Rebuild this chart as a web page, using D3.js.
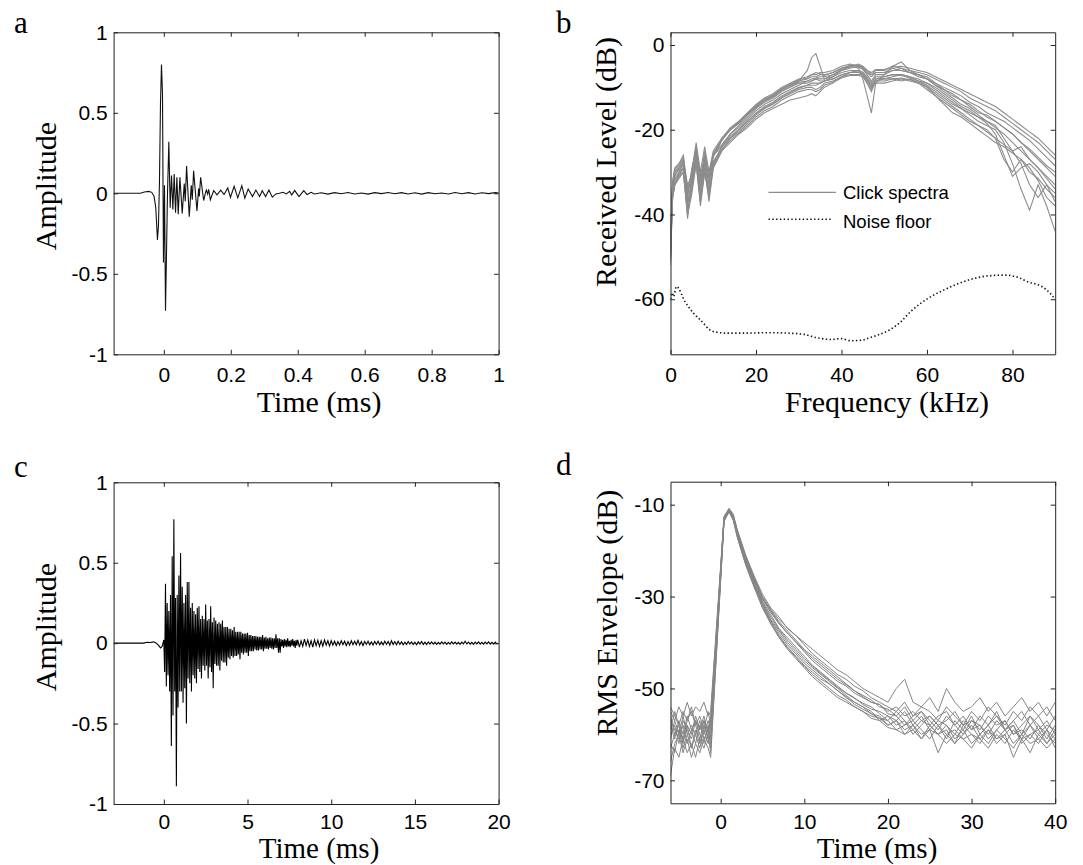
<!DOCTYPE html>
<html>
<head>
<meta charset="utf-8">
<script src="https://cdn.jsdelivr.net/npm/d3@7"></script>
<style>
  body { margin: 0; background: #fff; }
  svg { display: block; }
</style>
</head>
<body>
<div id="chart"></div>
<script>
// ---- panel a: single click waveform ----
var aTime = [-0.150, -0.070, -0.058, -0.045, -0.036, -0.029, -0.024, -0.019, -0.016, -0.013,
  -0.010, -0.007, -0.004, -0.001, 0.002, 0.005, 0.008, 0.011, 0.015, 0.019,
  0.023, 0.027, 0.031, 0.035, 0.039, 0.043, 0.048, 0.055, 0.061, 0.064,
  0.068, 0.076, 0.082, 0.085, 0.089, 0.099, 0.104, 0.106, 0.110, 0.119,
  0.124, 0.127, 0.131, 0.134, 0.139, 0.149, 0.159, 0.170, 0.180, 0.191,
  0.199, 0.210, 0.221, 0.233, 0.242, 0.252, 0.265, 0.275, 0.286, 0.294,
  0.304, 0.314, 0.324, 0.335, 0.345, 0.356, 0.366, 0.376, 0.382, 0.391,
  0.404, 0.418, 0.428, 0.440, 0.450]
var aAmp = [0, 0, 0.008, 0.012, 0.006, -0.02, -0.09, -0.29, -0.20, 0.07,
  0.55, 0.80, 0.62, -0.43, 0.05, -0.73, -0.38, 0.0, 0.32, -0.09,
  0.11, -0.10, 0.12, -0.12, 0.10, -0.13, 0.10, -0.125, 0.06, -0.05,
  0.17, -0.145, 0.05, -0.04, 0.14, -0.11, 0.03, -0.02, 0.10, -0.045,
  0.0, 0.02, -0.005, 0.025, -0.04, 0.017, -0.01, 0.02, -0.008, 0.033,
  -0.025, 0.043, -0.028, 0.047, -0.03, 0.027, -0.02, 0.02, -0.02, 0.016,
  -0.02, 0.02, -0.024, -0.004, 0.0, 0.006, -0.004, 0.012, -0.01, 0.017,
  -0.02, 0.017, -0.008, 0.006, -0.004]
// tail sampled every 0.02 ms from 0.47 ms
var aTailStart = 0.47
var aTailStep = 0.02
var aTail = [0.003, -0.005, 0.004, -0.003, 0.005, -0.004, 0.002, -0.005, 0.004, -0.002,
  0.005, -0.003, 0.004, -0.004, 0.003, -0.005, 0.004, -0.003, 0.002, -0.004,
  0.005, -0.003, 0.004, -0.004, 0.003, -0.002, 0.004, 0]

// ---- panel b: click spectra + noise floor ----
var bFreq = [0, 0.5, 1, 2, 3, 4, 5, 6, 7, 8, 9, 10, 11, 12, 14, 16, 18, 20, 22, 24, 26, 28, 30, 32,
  33, 34, 35, 36, 38, 40, 42, 44, 45, 46, 47, 48, 50, 52, 54, 56, 58, 60, 62, 64, 66, 68,
  70, 72, 74, 76, 78, 80, 82, 84, 86, 88, 90]
var bSpec1 = [-50, -33, -30, -29, -27, -38, -31, -25, -35, -27, -33, -26, -25, -22, -20, -18.5, -16.5, -14.5, -13, -12,
  -10.5, -9.5, -8.5, -6, -3, -2, -5, -8, -7, -6, -5, -5.5, -8, -12, -16, -9, -7, -5, -4, -6,
  -7, -8, -9.5, -10.5, -12, -13, -14.5, -16, -16.5, -18, -19.5, -21, -23, -25, -27, -29, -31]
var bSpec2 = [-46, -36, -33, -31, -30, -40, -34, -28, -38, -30, -36, -29, -27, -25, -23, -21, -19.5, -17.5, -16, -15,
  -14, -13, -12.5, -12, -11.5, -12, -11, -10, -9, -7.5, -6.5, -6, -6.5, -8, -10, -8, -8, -8, -8.5, -8,
  -9, -10, -12, -13.5, -15, -16.5, -18, -19, -20, -22, -27, -30, -27, -29, -32, -36, -38]
var bSpec3 = [-52, -32, -29, -28, -26, -34, -30, -24, -31, -26, -30, -25, -23.5, -22, -19.5, -18, -16, -14, -12.5, -11.5,
  -10, -9, -8, -7.5, -7, -7, -6.5, -6.5, -6, -5, -4.5, -5, -5.5, -6.5, -7, -6, -6, -5, -5.5, -6,
  -6.5, -7, -8, -9, -10, -11, -12.5, -13.5, -14.5, -15.5, -17, -18.5, -20, -21.5, -23, -25, -27]
var bSpec4 = [-47, -35, -32, -30.5, -29, -37, -33, -27, -33, -29, -31, -28, -26, -24, -21, -19.5, -17.5, -15.5, -14, -13,
  -11.5, -10.5, -9.5, -8.5, -8.5, -8, -8, -8, -7.5, -6.5, -6, -6, -6.5, -7.5, -9, -7.5, -7.5, -7, -7, -7.5,
  -8, -9, -10.5, -12, -13.5, -15, -16.5, -18, -19, -20, -23, -28, -34, -39, -33, -38, -44]
var bSpec5 = [-45, -34, -31, -29, -28.5, -35, -30, -23, -30, -24, -30, -26, -25, -23.5, -21, -19, -17, -15, -13.5, -12.5,
  -11, -10, -9, -9, -8.5, -8, -8.5, -8.5, -7.5, -6, -5.5, -5, -5.5, -6.5, -7.5, -6.5, -6.5, -6, -6, -6.5,
  -7, -8, -9, -10.5, -11.5, -13, -14, -15.5, -17, -18, -19.5, -21, -23, -24.5, -26.5, -28.5, -30]
var bSpec6 = [-49, -35, -32, -31, -29, -39, -33, -26.5, -36, -28.5, -34, -28, -26, -24, -21.5, -20, -18, -16, -14.5, -13.5,
  -12, -11, -10, -9.5, -9, -9, -9, -8.5, -8, -7, -6.5, -6.5, -7, -9, -11, -8.5, -8, -7.5, -7, -7.5,
  -8.5, -9.5, -11, -12.5, -14, -15, -16, -17, -18.5, -21, -26, -31, -29, -28, -30, -33, -35]
var bSpec7 = [-44, -33, -30.5, -29.5, -27.5, -33, -31, -25.5, -32, -27, -31, -26.5, -24.5, -22.5, -20, -18, -16, -14.5, -13, -12,
  -10.5, -9.5, -8.5, -8, -7.5, -7.5, -7, -7, -6.5, -5.5, -5, -4.5, -5, -6, -7, -6.5, -6.5, -5.5, -6, -6.5,
  -7, -7.5, -9, -10, -11, -12, -13.5, -14.5, -16, -17, -18, -19.5, -21, -22.5, -24.5, -26.5, -28.5]
var bSpec8 = [-51, -36, -33, -30, -29, -41, -32, -27, -37, -29, -37, -29, -27, -25, -22, -20.5, -18.5, -16.5, -15, -14,
  -12.5, -11.5, -10.5, -10, -10, -10.5, -10, -9, -8.5, -7.5, -7, -7, -7, -8.5, -10, -9, -9, -8.5, -8, -8.5,
  -9, -10.5, -12, -14, -16, -17, -18.5, -20, -21.5, -23, -24, -25.5, -27, -30, -31.5, -34, -36]
var bSpec9 = [-43, -33, -30, -28.5, -27, -36, -29, -24.5, -33, -25, -32, -25.5, -24, -22.5, -20, -18.5, -16.5, -14.8, -13.2, -12.2,
  -10.8, -9.8, -8.8, -8.5, -8, -7.8, -7.5, -7.5, -7, -5.8, -5.2, -5.2, -5.8, -7, -8.5, -7, -7, -6, -5.5, -6.5,
  -7.5, -8, -9.5, -11, -12.5, -14, -15, -16.5, -18, -19, -22, -25, -24, -27, -29, -31, -33]
var bSpec10 = [-48, -35, -31.5, -30, -28, -37, -32.5, -26, -34, -28, -35, -27.5, -26, -24, -22, -20, -18, -16.2, -14.8, -13.8,
  -12.3, -11.2, -10.2, -9.5, -9.5, -9.5, -9, -8.5, -8, -7, -6.5, -6.3, -6.8, -8, -9.5, -8, -7.5, -7, -7.2, -7.8,
  -8.5, -9, -10, -11.5, -13, -14.5, -15.5, -17, -18, -19.5, -21, -23, -25, -27, -29, -31.5, -34]
var bSpec11 = [-46, -32.5, -29.5, -28, -26.5, -35, -30.5, -25, -32, -26.5, -31.5, -26, -24, -22, -19.8, -18.2, -16.2, -14.2, -12.8, -11.8,
  -10.2, -9.2, -8.2, -7.8, -7, -6.5, -6.8, -7.2, -6.5, -5.5, -4.8, -4.8, -5.2, -6, -6.5, -5.8, -5.8, -5.2, -5, -5.5,
  -6, -6.5, -7.5, -8.5, -9.5, -10.5, -11.5, -12.5, -13.5, -14.5, -16, -17.5, -19, -20.5, -22, -24, -26]
var bSpec12 = [-50, -36, -33, -31.5, -30, -40, -35, -28, -37, -30, -35, -28.5, -26.5, -24.5, -22.5, -20.8, -19, -17, -15.5, -14.5,
  -13, -12, -11, -10.5, -10.5, -11, -10.5, -9.5, -8.8, -7.8, -7.2, -7.2, -7.5, -9, -10.5, -8.5, -8.5, -8, -7.8, -8.2,
  -8.8, -9.8, -11.5, -13, -14.5, -16, -17.5, -19, -20.5, -22, -23.5, -25, -28, -33, -36, -33, -37]
var bSpectra = [bSpec1, bSpec2, bSpec3, bSpec4, bSpec5, bSpec6, bSpec7, bSpec8, bSpec9, bSpec10, bSpec11, bSpec12]

var noiseFreq = [0, 0.4, 0.7, 1.4, 3.4, 5.4, 7.4, 9, 10.9, 13.3, 18, 22.6, 27.3, 31.2, 34.3, 37.5, 39.8, 42.2,
  44.5, 46.9, 49.2, 51.5, 53.9, 56.2, 58.5, 60.9, 64, 67.1, 70.3, 74.2, 78.1, 81.2, 83.6, 86, 88, 90]
var noiseLevel = [-60, -58.5, -59.4, -57, -60.6, -63.3, -65.3, -67.1, -67.8, -68, -68, -67.9, -68, -68.3, -69.1, -69.5, -69.3, -69.8,
  -69.7, -69, -68.2, -67.1, -65.3, -62.9, -61, -59.4, -57.8, -56.4, -55.3, -54.5, -54.3, -54.8, -55.9, -56.6, -57.8, -60]

// ---- panel c: long click waveform ----
var cPreTime = [-3, -1.2, -1.0, -0.8, -0.6, -0.45, -0.3, -0.2, -0.1, -0.05]
var cPreAmp = [0, 0, 0.006, 0.004, 0.008, 0, -0.015, -0.03, -0.02, 0]
// burst sampled every 0.05 ms from 0 ms
var cBurstStep = 0.05
var cBurst = [
  0.02, -0.18, 0.37, -0.27, 0.25, -0.2, 0.2, -0.3, 0.3, -0.64, 0.54, -0.45, 0.77, -0.3, 0.28, -0.89, 0.3, -0.4, 0.42, -0.3,
  0.56, -0.3, 0.35, -0.37, 0.25, -0.28, 0.3, -0.5, 0.38, -0.22, 0.38, -0.25, 0.22, -0.3, 0.25, -0.2, 0.2, -0.22, 0.18, -0.25,
  0.22, -0.16, 0.23, -0.18, 0.15, -0.22, 0.17, -0.14, 0.15, -0.17, 0.24, -0.14, 0.14, -0.22, 0.15, -0.15, 0.23, -0.18, 0.13, -0.28,
  0.16, -0.13, 0.14, -0.14, 0.12, -0.14, 0.13, -0.17, 0.12, -0.11, 0.14, -0.12, 0.1, -0.12, 0.1, -0.14, 0.1, -0.09, 0.09, -0.1,
  0.09, -0.08, 0.08, -0.09, 0.1, -0.08, 0.07, -0.08, 0.07, -0.07, 0.07, -0.1, 0.07, -0.06, 0.06, -0.07, 0.06, -0.06, 0.06, -0.06,
  0.065, -0.08, 0.05, -0.05, 0.05, -0.05, 0.045, -0.05, 0.045, -0.04, 0.045, -0.045, 0.04, -0.045, 0.04, -0.04, 0.04, -0.04, 0.05, -0.05,
  0.035, -0.035, 0.04, -0.035, 0.03, -0.04, 0.035, -0.03, 0.035, -0.035, 0.03, -0.04, 0.03, -0.03, 0.055, -0.03, 0.03, -0.06, 0.03, -0.06,
  0.025, -0.02, 0.02, -0.03, 0.025, -0.02, 0.02, -0.025, 0.03, -0.02, 0.015, -0.025, 0.02, -0.015, 0.025, -0.02, 0.015, -0.03, 0.02, -0.015]
// tail sampled every 0.1 ms from 8 ms
var cTailStart = 8
var cTailStep = 0.1
var cTail = [
  0.02, -0.025, 0.015, -0.02, 0.025, -0.015, 0.02, -0.02, 0.015, -0.025, 0.02, -0.015, 0.018, -0.02, 0.015, -0.018, 0.02, -0.012, 0.015, -0.018,
  0.015, -0.012, 0.012, -0.015, 0.01, -0.012, 0.015, -0.01, 0.012, -0.015, 0.01, -0.012, 0.015, -0.01, 0.012, -0.01, 0.018, -0.012, 0.01, -0.015,
  0.01, -0.008, 0.012, -0.01, 0.008, -0.012, 0.01, -0.008, 0.012, -0.01, 0.008, -0.01, 0.012, -0.008, 0.01, -0.012, 0.015, -0.008, 0.01, -0.01,
  0.012, -0.008, 0.008, -0.01, 0.006, -0.008, 0.01, -0.006, 0.008, -0.008, 0.006, -0.01, 0.008, -0.006, 0.01, -0.008, 0.006, -0.008, 0.008, -0.006,
  0.008, -0.006, 0.006, -0.008, 0.005, -0.006, 0.008, -0.005, 0.006, -0.008, 0.005, -0.006, 0.008, -0.005, 0.006, -0.006, 0.005, -0.008, 0.006, -0.005,
  0.012, -0.005, 0.006, -0.006, 0.005, -0.008, 0.006, -0.005, 0.008, -0.006, 0.005, -0.006, 0.006, -0.005, 0.008, -0.006, 0.005, -0.006, 0.006, -0.005,
  0]

// ---- panel d: RMS envelopes ----
var dTime = [-6, -5.5, -5, -4.5, -4, -3.5, -3, -2.5, -2, -1.5, -1.2, 0.4, 1, 1.5, 2,
  3, 4, 5, 6, 7, 8, 9, 10, 11, 12, 13, 14, 15, 16, 17, 18, 19, 20, 21, 22,
  23, 24, 25, 26, 27, 28, 29, 30, 31, 32, 33, 34, 35, 36, 37, 38, 39, 40]
var dEnv1 = [-58, -61, -57, -60, -56, -59, -62, -58, -60, -57, -59, -13, -11, -12.5, -16,
  -21.5, -26, -30.5, -33.5, -36, -38, -40, -42, -44, -45.5, -47, -48.5, -49.5, -51, -52, -53, -53.5, -55, -54, -56,
  -55, -57, -56, -58, -57, -55, -58, -57, -59, -56, -58, -57, -60, -58, -56, -59, -57, -60]
var dEnv2 = [-69, -63, -65, -61, -64, -62, -65, -61, -63, -60, -64, -13.5, -11.3, -13, -16.5,
  -22.5, -27, -31.5, -35, -37.5, -40, -42, -44, -45.5, -47, -48.5, -50, -51.5, -53, -54, -55.5, -56, -58, -57, -59,
  -58, -60, -59, -64, -60, -59, -61, -60, -62, -59, -61, -60, -65, -61, -60, -62, -59, -61]
var dEnv3 = [-55, -57, -54, -56, -53, -56, -54, -55, -53, -56, -55, -12.5, -10.8, -12, -15.5,
  -21, -25.5, -29.5, -32.5, -34.5, -37, -38.5, -40, -41.5, -43, -44.5, -46, -47, -48.5, -50, -51, -52, -53, -50, -48,
  -53, -54, -52, -55, -50, -53, -55, -54, -52, -55, -53, -56, -54, -52, -55, -53, -56, -53]
var dEnv4 = [-60, -58, -62, -57, -59, -61, -57, -60, -62, -58, -61, -13.2, -11.2, -12.8, -16.2,
  -22, -26.5, -31, -34, -37, -39, -41, -43, -45, -46.5, -48, -49.5, -51, -52, -53.5, -54.5, -55, -56, -57, -55,
  -58, -56, -59, -57, -58, -60, -57, -59, -58, -61, -59, -57, -60, -59, -61, -58, -60, -62]
var dEnv5 = [-63, -60, -59, -63, -60, -58, -60, -63, -59, -62, -60, -13, -11, -12.6, -16,
  -21.8, -26.2, -30.5, -33, -35.5, -37.5, -39.5, -41.5, -43, -44.5, -46, -47.5, -49, -50.5, -51.5, -52.5, -54, -54.5, -56, -58,
  -56, -55, -57, -59, -56, -58, -60, -57, -58, -60, -57, -59, -58, -61, -58, -60, -58, -59]
var dEnv6 = [-57, -59, -61, -58, -62, -59, -57, -59, -56, -60, -57, -13.4, -11.4, -13.2, -17,
  -23, -27.5, -32, -35.5, -38.5, -41, -43, -45, -46.5, -48, -49, -50.5, -52, -53, -54, -55, -57, -56, -58, -57,
  -59, -57, -58, -60, -58, -61, -59, -62, -60, -58, -61, -59, -62, -60, -58, -61, -59, -63]
var dEnv7 = [-54, -56, -58, -55, -57, -55, -58, -56, -59, -55, -58, -12.8, -11, -12.3, -15.8,
  -21.2, -25.8, -30, -32.8, -35, -36.8, -38.5, -40.5, -42.5, -44, -45.5, -47, -48, -49.5, -50.5, -52, -53, -54, -55, -53,
  -56, -54, -55, -57, -54, -56, -58, -55, -57, -54, -56, -58, -55, -57, -54, -56, -54, -57]
var dEnv8 = [-66, -62, -60, -64, -61, -65, -62, -64, -61, -63, -65, -13.6, -11.6, -13.4, -17.2,
  -23.2, -28, -32.5, -36, -39, -41.5, -43.5, -45.5, -47.5, -49, -50.5, -52, -53, -54, -55, -56.5, -57, -58.5, -59, -60,
  -58, -61, -59, -60, -62, -60, -61, -63, -60, -62, -59, -61, -63, -60, -62, -61, -63, -61]
var dEnv9 = [-59, -55, -58, -61, -57, -54, -58, -61, -57, -59, -56, -13.1, -11.1, -12.7, -16.1,
  -22.2, -26.8, -31.2, -34.5, -37.2, -39.5, -41.5, -43.5, -45.2, -46.8, -48.2, -49.8, -51, -52.2, -53.2, -54, -55.5, -57, -55, -57,
  -60, -58, -56, -58, -61, -57, -59, -56, -60, -58, -55, -59, -57, -60, -56, -58, -61, -58]
var dEnv10 = [-62, -64, -59, -61, -58, -63, -60, -57, -61, -59, -62, -13.3, -11.3, -13, -16.6,
  -22.6, -27.2, -31.8, -35.2, -38, -40.5, -42.5, -44.5, -46, -47.5, -49, -50.5, -51.8, -53.5, -54.5, -55.5, -56.5, -57, -59, -58,
  -57, -59, -61, -58, -60, -62, -58, -60, -61, -59, -62, -60, -58, -62, -60, -59, -62, -60]
var dEnv11 = [-56, -60, -58, -62, -58, -60, -56, -59, -57, -61, -58, -12.9, -10.9, -12.4, -15.9,
  -21.5, -26, -30.2, -33.2, -35.8, -38, -39.8, -41.8, -43.5, -45, -46.5, -48, -49.2, -50.5, -51.8, -53, -53.5, -55.5, -56, -54,
  -57, -55, -58, -56, -55, -58, -56, -59, -56, -58, -56, -59, -57, -55, -58, -56, -59, -56]
var dEnv12 = [-61, -57, -60, -56, -60, -63, -59, -62, -58, -61, -63, -13.5, -11.5, -13.3, -17,
  -23, -27.8, -32.2, -35.8, -38.8, -41.2, -43.2, -45.2, -47, -48.5, -50, -51.5, -52.5, -54, -55, -56, -56.5, -58, -57, -60,
  -59, -61, -58, -60, -59, -62, -60, -58, -61, -63, -60, -62, -59, -61, -64, -60, -62, -59]
var dEnvelopes = [dEnv1, dEnv2, dEnv3, dEnv4, dEnv5, dEnv6, dEnv7, dEnv8, dEnv9, dEnv10, dEnv11, dEnv12]

// ---- tick values ----
var ampTicks = [-1, -0.5, 0, 0.5, 1]
var aTimeTicks = [0, 0.2, 0.4, 0.6, 0.8, 1]
var bFreqTicks = [0, 20, 40, 60, 80]
var bLevelTicks = [-60, -40, -20, 0]
var cTimeTicks = [0, 5, 10, 15, 20]
var dTimeTicks = [0, 10, 20, 30, 40]
var dLevelTicks = [-70, -50, -30, -10]

var W = 1083
var H = 865
var TICK = 4.5
var GREY = '#8c8c8c'
var SANS = '"Liberation Sans", Arial, sans-serif'
var SERIF = '"Liberation Serif", "Times New Roman", serif'

var svg = d3.select('#chart').append('svg')
  .attr('width', W)
  .attr('height', H)
  .style('background', '#fff')

function makePanel (p) {
  var x = d3.scaleLinear().domain(p.xDomain).range([p.left, p.right])
  var y = d3.scaleLinear().domain(p.yDomain).range([p.bottom, p.top])
  var g = svg.append('g').attr('id', 'panel-' + p.id)

  g.append('defs').append('clipPath')
    .attr('id', 'clip-' + p.id)
    .append('rect')
    .attr('x', p.left)
    .attr('y', p.top)
    .attr('width', p.right - p.left)
    .attr('height', p.bottom - p.top)

  var plot = g.append('g').attr('clip-path', 'url(#clip-' + p.id + ')')

  var fmt = function (d) { return String(d) }

  g.append('g')
    .attr('transform', 'translate(0,' + p.bottom + ')')
    .call(d3.axisBottom(x).tickValues(p.xTicks).tickFormat(fmt)
      .tickSize(-TICK).tickSizeOuter(0).tickPadding(p.xPad))
  g.append('g')
    .attr('transform', 'translate(' + p.left + ',0)')
    .call(d3.axisLeft(y).tickValues(p.yTicks).tickFormat(fmt)
      .tickSize(-TICK).tickSizeOuter(0).tickPadding(6))
  g.append('g')
    .attr('transform', 'translate(0,' + p.top + ')')
    .call(d3.axisTop(x).tickValues(p.xTicks).tickFormat('')
      .tickSize(-TICK).tickSizeOuter(0))
  g.append('g')
    .attr('transform', 'translate(' + p.right + ',0)')
    .call(d3.axisRight(y).tickValues(p.yTicks).tickFormat('')
      .tickSize(-TICK).tickSizeOuter(0))

  g.selectAll('.domain, .tick line').attr('stroke', '#222').attr('stroke-width', 1)
  g.selectAll('.tick text')
    .attr('font-family', SANS)
    .attr('font-size', 21)
    .attr('fill', '#000')

  g.append('text')
    .attr('x', p.xLabelX)
    .attr('y', p.xLabelY)
    .attr('text-anchor', 'middle')
    .attr('font-family', SERIF)
    .attr('font-size', p.labelSize)
    .text(p.xLabel)

  g.append('text')
    .attr('transform', 'translate(' + p.yLabelX + ',' + p.yLabelY + ') rotate(-90)')
    .attr('text-anchor', 'middle')
    .attr('font-family', SERIF)
    .attr('font-size', 30)
    .text(p.yLabel)

  g.append('text')
    .attr('x', p.letterX)
    .attr('y', p.letterY)
    .attr('font-family', SERIF)
    .attr('font-size', 31)
    .text(p.id)

  return { x: x, y: y, plot: plot, g: g }
}

// panel a
var pa = makePanel({
  id: 'a', left: 113.6, right: 498.6, top: 32.3, bottom: 354.3,
  xDomain: [-0.15, 1], yDomain: [-1, 1], xTicks: aTimeTicks, yTicks: ampTicks, xPad: 12.5,
  xLabel: 'Time (ms)', xLabelX: 319, xLabelY: 412, labelSize: 30,
  yLabel: 'Amplitude', yLabelX: 56, yLabelY: 186,
  letterX: 14, letterY: 33
})
var aPoints = aTime.map(function (t, i) { return [t, aAmp[i]] })
aTail.forEach(function (v, i) { aPoints.push([aTailStart + i * aTailStep, v]) })
aPoints.push([1, 0])
pa.plot.append('path')
  .datum(aPoints)
  .attr('fill', 'none')
  .attr('stroke', '#111')
  .attr('stroke-width', 1.1)
  .attr('d', d3.line().x(function (d) { return pa.x(d[0]) }).y(function (d) { return pa.y(d[1]) }))

// panel b
var pb = makePanel({
  id: 'b', left: 670.5, right: 1055.2, top: 32.3, bottom: 354.3,
  xDomain: [0, 90], yDomain: [-73, 3], xTicks: bFreqTicks, yTicks: bLevelTicks, xPad: 12.5,
  xLabel: 'Frequency (kHz)', xLabelX: 887, xLabelY: 412, labelSize: 30,
  yLabel: 'Received Level (dB)', yLabelX: 616, yLabelY: 162,
  letterX: 556, letterY: 33
})
var specLine = d3.line()
  .x(function (d, i) { return pb.x(bFreq[i]) })
  .y(function (d) { return pb.y(d) })
pb.plot.selectAll('path.spec')
  .data(bSpectra)
  .enter().append('path')
  .attr('class', 'spec')
  .attr('fill', 'none')
  .attr('stroke', GREY)
  .attr('stroke-width', 1.1)
  .attr('d', specLine)
pb.plot.append('path')
  .datum(noiseLevel)
  .attr('fill', 'none')
  .attr('stroke', '#111')
  .attr('stroke-width', 1.6)
  .attr('stroke-dasharray', '1.4,2.4')
  .attr('d', d3.line()
    .curve(d3.curveMonotoneX)
    .x(function (d, i) { return pb.x(noiseFreq[i]) })
    .y(function (d) { return pb.y(d) }))

// legend
var legend = pb.g.append('g')
legend.append('line')
  .attr('x1', 768.5).attr('x2', 836).attr('y1', 192.3).attr('y2', 192.3)
  .attr('stroke', GREY).attr('stroke-width', 1.2)
legend.append('line')
  .attr('x1', 768.5).attr('x2', 832.6).attr('y1', 219.3).attr('y2', 219.3)
  .attr('stroke', '#111').attr('stroke-width', 1.6).attr('stroke-dasharray', '1.4,2.4')
legend.append('text')
  .attr('x', 843).attr('y', 199)
  .attr('font-family', SANS).attr('font-size', 18.5)
  .text('Click spectra')
legend.append('text')
  .attr('x', 843).attr('y', 227.5)
  .attr('font-family', SANS).attr('font-size', 18.5)
  .text('Noise floor')

// panel c
var pc = makePanel({
  id: 'c', left: 113.6, right: 498.6, top: 482.3, bottom: 804,
  xDomain: [-3, 20], yDomain: [-1, 1], xTicks: cTimeTicks, yTicks: ampTicks, xPad: 10.5,
  xLabel: 'Time (ms)', xLabelX: 319, xLabelY: 858, labelSize: 29,
  yLabel: 'Amplitude', yLabelX: 56, yLabelY: 627,
  letterX: 14, letterY: 477
})
var cPoints = cPreTime.map(function (t, i) { return [t, cPreAmp[i]] })
cBurst.forEach(function (v, i) { cPoints.push([i * cBurstStep, v]) })
cTail.forEach(function (v, i) { cPoints.push([cTailStart + i * cTailStep, v]) })
pc.plot.append('path')
  .datum(cPoints)
  .attr('fill', 'none')
  .attr('stroke', '#000')
  .attr('stroke-width', 1.1)
  .attr('d', d3.line().x(function (d) { return pc.x(d[0]) }).y(function (d) { return pc.y(d[1]) }))

// panel d
var pd = makePanel({
  id: 'd', left: 670.5, right: 1055.2, top: 481.7, bottom: 803.3,
  xDomain: [-6, 40], yDomain: [-75, -5], xTicks: dTimeTicks, yTicks: dLevelTicks, xPad: 10.5,
  xLabel: 'Time (ms)', xLabelX: 877, xLabelY: 858, labelSize: 29,
  yLabel: 'RMS Envelope (dB)', yLabelX: 617, yLabelY: 613,
  letterX: 556, letterY: 475
})
var envLine = d3.line()
  .x(function (d, i) { return pd.x(dTime[i]) })
  .y(function (d) { return pd.y(d) })
pd.plot.selectAll('path.env')
  .data(dEnvelopes)
  .enter().append('path')
  .attr('class', 'env')
  .attr('fill', 'none')
  .attr('stroke', '#858585')
  .attr('stroke-width', 1)
  .attr('d', envLine)
</script>
</body>
</html>
